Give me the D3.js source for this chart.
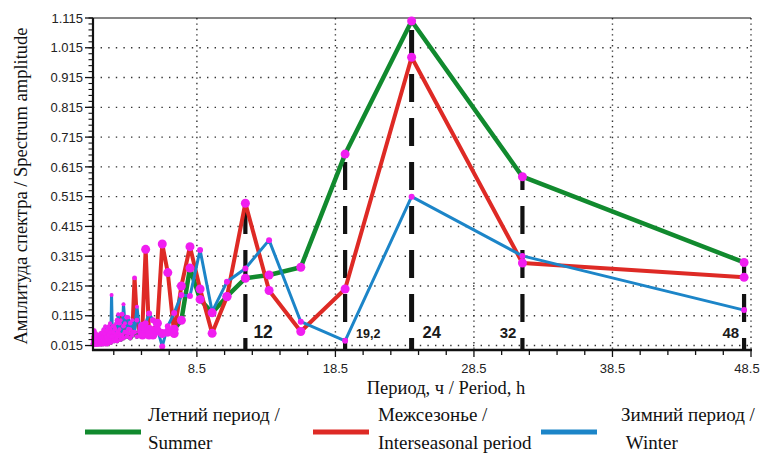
<!DOCTYPE html>
<html>
<head>
<meta charset="utf-8">
<script src="https://cdn.jsdelivr.net/npm/d3@7"></script>
<style>
  html, body { margin: 0; padding: 0; background: #fff; }
  svg { display: block; }
</style>
</head>
<body>
<svg id="chart" width="763" height="454"></svg>
<script>
// Periods of the spectral components, hours (96 h record)
const periods = [
  48, 32, 24, 19.2, 16, 13.71, 12, 10.67, 9.6, 8.73, 8, 7.38, 6.86, 6.4, 6, 5.65,
  5.33, 5.05, 4.8, 4.57, 4.36, 4.17, 4, 3.84, 3.69, 3.56, 3.43, 3.31, 3.2, 3.1, 3,
  2.91, 2.82, 2.74, 2.67, 2.59, 2.53, 2.46, 2.4, 2.34, 2.29, 2.23, 2.18, 2.13, 2.09,
  2.04, 2, 1.96, 1.92, 1.88, 1.85, 1.81, 1.78, 1.75, 1.71, 1.68, 1.66, 1.63, 1.6,
  1.57, 1.55, 1.52, 1.5, 1.48, 1.45, 1.43, 1.41, 1.39, 1.37, 1.35, 1.33, 1.32, 1.3,
  1.28, 1.26, 1.25, 1.23, 1.22, 1.2, 1.19, 1.17, 1.16, 1.14, 1.13, 1.12, 1.1, 1.09,
  1.08, 1.07, 1.05, 1.04, 1.03, 1.02, 1.01, 1
];

// Spectrum amplitude, summer
const summer = [
  0.294, 0.582, 1.105, 0.658, 0.278, 0.252, 0.241, 0.18, 0.125, 0.17, 0.275, 0.10,
  0.07, 0.06, 0.055, 0.065, 0.05, 0.07, 0.06, 0.05, 0.065, 0.045, 0.06, 0.05, 0.04,
  0.055, 0.045, 0.06, 0.04, 0.05, 0.035, 0.045, 0.05, 0.03, 0.04, 0.045, 0.03, 0.035,
  0.04, 0.03, 0.025, 0.035, 0.03, 0.025, 0.03, 0.02, 0.025,
  0.03, 0.02, 0.035, 0.025, 0.03, 0.02, 0.025, 0.03, 0.02, 0.025, 0.02, 0.03, 0.025,
  0.02, 0.03, 0.02, 0.025, 0.02, 0.03, 0.025, 0.02, 0.025, 0.02, 0.03, 0.02, 0.025,
  0.02, 0.02, 0.025, 0.02, 0.03, 0.02, 0.025, 0.02, 0.02, 0.025, 0.02, 0.03, 0.02,
  0.025, 0.02, 0.02, 0.025, 0.02, 0.02, 0.025, 0.02, 0.02
];

// Spectrum amplitude, interseasonal period
const interseason = [
  0.244, 0.292, 0.983, 0.205, 0.062, 0.20, 0.493, 0.179, 0.056, 0.205, 0.347, 0.215,
  0.055, 0.26, 0.356, 0.09, 0.065, 0.05, 0.338, 0.08, 0.06, 0.10, 0.242, 0.06, 0.09,
  0.07, 0.11, 0.06, 0.08, 0.12, 0.05, 0.09, 0.06, 0.10, 0.04, 0.07, 0.05, 0.08, 0.04,
  0.06, 0.05, 0.07, 0.04, 0.06, 0.035, 0.05, 0.04,
  0.055, 0.03, 0.065, 0.035, 0.045, 0.025, 0.06, 0.035, 0.025, 0.05, 0.03, 0.04, 0.025,
  0.055, 0.03, 0.035, 0.025, 0.045, 0.025, 0.04, 0.02, 0.035, 0.025, 0.045, 0.025, 0.035,
  0.02, 0.03, 0.04, 0.025, 0.035, 0.02, 0.055, 0.03, 0.025, 0.04, 0.02, 0.035, 0.025,
  0.065, 0.03, 0.025, 0.045, 0.025, 0.035, 0.02, 0.03, 0.02
];

// Spectrum amplitude, winter
const winter = [
  0.134, 0.316, 0.515, 0.031, 0.095, 0.369, 0.274, 0.229, 0.129, 0.336, 0.181, 0.185,
  0.124, 0.08, 0.012, 0.07, 0.10, 0.123, 0.09, 0.05, 0.074, 0.145, 0.06, 0.10, 0.07,
  0.11, 0.06, 0.09, 0.154, 0.05, 0.10, 0.07, 0.12, 0.06, 0.09, 0.05, 0.08, 0.06, 0.045,
  0.185, 0.045, 0.09, 0.06, 0.08, 0.05, 0.07, 0.04,
  0.065, 0.035, 0.08, 0.045, 0.055, 0.03, 0.07, 0.04, 0.025, 0.06, 0.035, 0.045, 0.03,
  0.055, 0.035, 0.045, 0.025, 0.05, 0.03, 0.04, 0.025, 0.05, 0.03, 0.035, 0.025, 0.045,
  0.025, 0.035, 0.05, 0.025, 0.04, 0.025, 0.045, 0.03, 0.025, 0.04, 0.02, 0.035, 0.025,
  0.045, 0.025, 0.02, 0.035, 0.025, 0.03, 0.02, 0.025, 0.018
];

// Highlighted periods and their captions
const markedPeriods = [12, 19.2, 24, 32, 48];
const markedLabels = ["12", "19,2", "24", "32", "48"];

// Axis ticks
const xTickValues = [8.5, 18.5, 28.5, 38.5, 48.5];
const xTickLabels = ["8.5", "18.5", "28.5", "38.5", "48.5"];
const yTickValues = [0.015, 0.115, 0.215, 0.315, 0.415, 0.515, 0.615, 0.715, 0.815, 0.915, 1.015, 1.115];
const yTickLabels = ["0.015", "0.115", "0.215", "0.315", "0.415", "0.515", "0.615", "0.715", "0.815", "0.915", "1.015", "1.115"];

const legendLabels = [
  ["Летний период /", "Summer"],
  ["Межсезонье /", "Interseasonal period"],
  ["Зимний период /", "\u00A0Winter"]
];

// ---- layout & styles ----
const svg = d3.select("#chart");
const plotLeft = 93, plotRight = 751, plotTop = 18, plotBottom = 350;
const serif = "'Liberation Serif', 'Times New Roman', serif";
const sans = "'Liberation Sans', Arial, sans-serif";

const x = d3.scaleLinear().domain([1, 48.5]).range([plotLeft, plotRight]);
const y = d3.scaleLinear().domain([0, 1.115]).range([plotBottom, plotTop]);

const seriesStyle = [
  { values: summer,      color: "#118a2e", width: 4.5, r: 4.5, rSmall: 2.4 },
  { values: interseason, color: "#de2a25", width: 4,   r: 4.5, rSmall: 2.4 },
  { values: winter,      color: "#1c85c8", width: 3,   r: 3,   rSmall: 2 }
];
const markerColor = "#f01ef0";

// grid: horizontal dotted lines
svg.append("g").selectAll("line")
  .data(yTickValues.slice(0, -1))
  .join("line")
  .attr("x1", plotLeft).attr("x2", plotRight)
  .attr("y1", d => y(d)).attr("y2", d => y(d))
  .attr("stroke", "#333").attr("stroke-width", 1.4)
  .attr("stroke-dasharray", "1.4,6.2");

// grid: vertical dotted lines
svg.append("g").selectAll("line")
  .data(xTickValues)
  .join("line")
  .attr("x1", d => x(d)).attr("x2", d => x(d))
  .attr("y1", plotTop).attr("y2", plotBottom)
  .attr("stroke", "#333").attr("stroke-width", 1.4)
  .attr("stroke-dasharray", "1.4,4");

// top frame line
svg.append("line")
  .attr("x1", plotLeft).attr("x2", plotRight).attr("y1", plotTop).attr("y2", plotTop)
  .attr("stroke", "#111").attr("stroke-width", 1.2);

// dashed markers of dominant periods
const peakOf = p => {
  const i = periods.indexOf(p);
  return d3.max(seriesStyle, s => s.values[i]);
};
svg.append("g").selectAll("line")
  .data(markedPeriods)
  .join("line")
  .attr("x1", d => x(d)).attr("x2", d => x(d))
  .attr("y1", plotBottom).attr("y2", d => y(peakOf(d)))
  .attr("stroke", "#111")
  .attr("stroke-width", d => d === 24 ? 5 : 4.2)
  .attr("stroke-dasharray", "28,16")
  .attr("stroke-dashoffset", 16);

// series lines
const line = d3.line()
  .x((d, i) => x(periods[i]))
  .y(d => y(d));

seriesStyle.forEach(s => {
  svg.append("path")
    .datum(s.values)
    .attr("fill", "none")
    .attr("stroke", s.color)
    .attr("stroke-width", s.width)
    .attr("stroke-linejoin", "round")
    .attr("d", line);
});

// point markers (smaller where the short periods crowd together)
seriesStyle.forEach(s => {
  svg.append("g").selectAll("circle")
    .data(s.values)
    .join("circle")
    .attr("cx", (d, i) => x(periods[i]))
    .attr("cy", d => y(d))
    .attr("r", (d, i) => periods[i] >= 4.5 ? s.r : s.rSmall)
    .attr("fill", markerColor);
});

// captions of dominant periods
const captionStyle = [
  { dx: 8,  size: 17.5, anchor: "start" },
  { dx: 11, size: 12.5, anchor: "start" },
  { dx: 11, size: 16.5, anchor: "start" },
  { dx: -6, size: 15,   anchor: "end" },
  { dx: -5, size: 15,   anchor: "end" }
];
svg.append("g").selectAll("text")
  .data(markedPeriods)
  .join("text")
  .attr("x", (d, i) => x(d) + captionStyle[i].dx)
  .attr("y", 338)
  .attr("text-anchor", (d, i) => captionStyle[i].anchor)
  .attr("font-family", sans)
  .attr("font-weight", "bold")
  .attr("font-size", (d, i) => captionStyle[i].size)
  .attr("fill", "#1a1a1a")
  .text((d, i) => markedLabels[i]);

// x axis
const xAxis = svg.append("g").attr("transform", `translate(0,${plotBottom})`);
xAxis.append("line").attr("x1", plotLeft - 1).attr("x2", plotRight + 1)
  .attr("stroke", "#111").attr("stroke-width", 2.4);
const xMinor = d3.range(2.5, 48.6, 2);
xAxis.selectAll(".xminor").data(xMinor).join("line")
  .attr("x1", d => x(d)).attr("x2", d => x(d))
  .attr("y1", 0).attr("y2", d => xTickValues.includes(d) ? 7 : 5)
  .attr("stroke", "#111").attr("stroke-width", 1.3);
xAxis.selectAll("text").data(xTickValues).join("text")
  .attr("x", d => x(d) - (d === 48.5 ? 4 : 0))
  .attr("y", 23)
  .attr("text-anchor", "middle")
  .attr("font-family", sans).attr("font-size", 13).attr("fill", "#222")
  .text((d, i) => xTickLabels[i]);

// y axis
const yAxis = svg.append("g").attr("transform", `translate(${plotLeft},0)`);
yAxis.append("line").attr("y1", plotTop).attr("y2", plotBottom + 1)
  .attr("stroke", "#111").attr("stroke-width", 2.2);
const yMinor = d3.range(0.015, 1.116, 0.02);
yAxis.selectAll(".yminor").data(yMinor).join("line")
  .attr("x1", -4.5).attr("x2", 0)
  .attr("y1", d => y(d)).attr("y2", d => y(d))
  .attr("stroke", "#111").attr("stroke-width", 1.1);
yAxis.selectAll(".ymajor").data(yTickValues).join("line")
  .attr("x1", -8).attr("x2", 0)
  .attr("y1", d => y(d)).attr("y2", d => y(d))
  .attr("stroke", "#111").attr("stroke-width", 1.3);
yAxis.selectAll("text").data(yTickValues).join("text")
  .attr("x", -10).attr("y", d => y(d))
  .attr("dy", "0.36em")
  .attr("text-anchor", "end")
  .attr("font-family", sans).attr("font-size", 13).attr("fill", "#222")
  .text((d, i) => yTickLabels[i]);

// axis titles
svg.append("text")
  .attr("x", 446).attr("y", 394)
  .attr("text-anchor", "middle")
  .attr("font-family", serif).attr("font-size", 18.5).attr("fill", "#111")
  .text("Период, ч / Period, h");

svg.append("text")
  .attr("transform", "translate(27,186) rotate(-90)")
  .attr("text-anchor", "middle")
  .attr("font-family", serif).attr("font-size", 18.5).attr("fill", "#111")
  .text("Амплитуда спектра / Spectrum amplitude");

// legend
const legendPos = [
  { sx: 85,  tx: 148 },
  { sx: 313, tx: 378 },
  { sx: 541, tx: 621 }
];
const legend = svg.append("g");
seriesStyle.forEach((s, i) => {
  legend.append("line")
    .attr("x1", legendPos[i].sx).attr("x2", legendPos[i].sx + 56)
    .attr("y1", 432).attr("y2", 432)
    .attr("stroke", s.color).attr("stroke-width", 5);
  const t = legend.append("text")
    .attr("font-family", serif).attr("font-size", 19).attr("fill", "#111");
  t.append("tspan").attr("x", legendPos[i].tx).attr("y", 421).text(legendLabels[i][0]);
  t.append("tspan").attr("x", legendPos[i].tx).attr("y", 449).text(legendLabels[i][1]);
});
</script>
</body>
</html>
